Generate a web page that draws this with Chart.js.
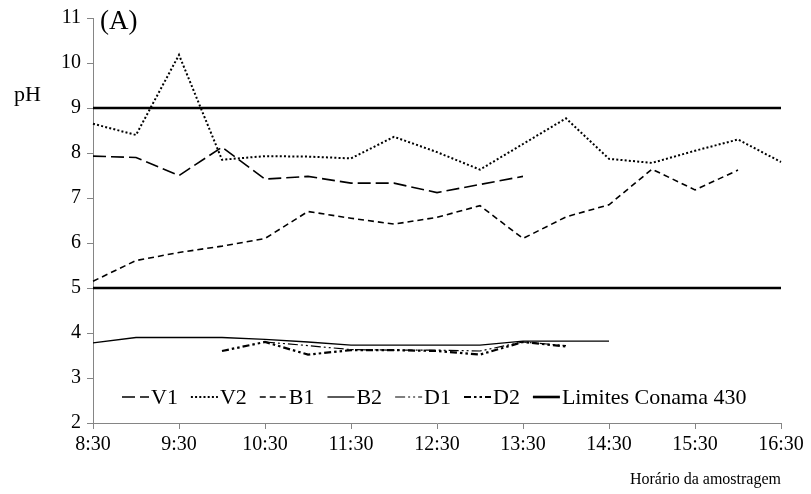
<!DOCTYPE html>
<html>
<head>
<meta charset="utf-8">
<script src="https://cdn.jsdelivr.net/npm/chart.js@4/dist/chart.umd.min.js"></script>
<style>
  html, body { margin: 0; padding: 0; background: #ffffff; }
  #wrap { width: 811px; height: 494px; }
</style>
</head>
<body>
<div id="wrap"><canvas id="ph" width="811" height="494"></canvas></div>
<script>
// Sampling times (every half hour)
const times = ['8:30','9:00','9:30','10:00','10:30','11:00','11:30','12:00','12:30',
               '13:00','13:30','14:00','14:30','15:00','15:30','16:00','16:30'];

// pH readings per sampling point (null = not sampled)
const v1 = [7.93, 7.90, 7.50, 8.13, 7.42, 7.48, 7.33, 7.33, 7.12, 7.30, 7.48,
            null, null, null, null, null, null];
const v2 = [8.65, 8.40, 10.18, 7.85, 7.93, 7.92, 7.88, 8.36, 8.02, 7.63, 8.20,
            8.77, 7.87, 7.78, 8.05, 8.30, 7.80];
const b1 = [5.15, 5.61, 5.79, 5.93, 6.10, 6.70, 6.55, 6.42, 6.57, 6.83, 6.10,
            6.58, 6.85, 7.64, 7.18, 7.62, null];
const b2 = [3.78, 3.90, 3.90, 3.90, 3.86, 3.80, 3.73, 3.73, 3.73, 3.73, 3.82,
            3.82, 3.82, null, null, null, null];
const d1 = [null, null, null, null, 3.80, 3.72, 3.63, 3.62, 3.62, 3.60, 3.80,
            3.72, null, null, null, null, null];
const d2 = [null, null, null, 3.60, 3.80, 3.52, 3.62, 3.62, 3.60, 3.52, 3.80,
            3.70, null, null, null, null, null];

// CONAMA 430 discharge limits for pH (5 to 9)
const limitUpper = times.map(() => 9);
const limitLower = times.map(() => 5);

const FONT = '"Liberation Serif", "Times New Roman", serif';
const AXIS_GREY = '#858585';

function series(label, data, dash, width) {
  return {
    label: label,
    data: data,
    borderColor: '#000000',
    backgroundColor: '#000000',
    borderWidth: width,
    borderDash: dash,
    borderCapStyle: 'butt',
    pointRadius: 0,
    tension: 0,
    spanGaps: false,
    fill: false
  };
}

const datasets = [
  series('V1', v1, [13, 5], 1.6),
  series('V2', v2, [2, 2.2], 2),
  series('B1', b1, [6, 4], 1.6),
  series('B2', b2, [], 1.3),
  series('D1', d1, [10, 3, 2, 3, 2, 3], 1.2),
  series('D2', d2, [7, 3, 2.5, 3, 2.5, 3], 2.2),
  series('Limites Conama 430', limitUpper, [], 2.6),
  series('', limitLower, [], 2.6)
];

// Legend drawn in a single row inside the plot area
const inlineLegend = {
  id: 'inlineLegend',
  afterDatasetsDraw(chart) {
    const ctx = chart.ctx;
    const y = 397;
    let x = 122;
    ctx.save();
    ctx.font = '22px ' + FONT;
    ctx.textBaseline = 'middle';
    ctx.fillStyle = '#000000';
    chart.data.datasets.forEach(ds => {
      if (!ds.label) return;
      ctx.save();
      ctx.strokeStyle = ds.borderColor;
      ctx.lineWidth = ds.borderWidth;
      ctx.setLineDash(ds.borderDash || []);
      ctx.lineCap = 'butt';
      ctx.beginPath();
      ctx.moveTo(x, y);
      ctx.lineTo(x + 27, y);
      ctx.stroke();
      ctx.restore();
      ctx.fillText(ds.label, x + 29, y + 1);
      x += 29 + ctx.measureText(ds.label).width + 13;
    });
    ctx.restore();
  }
};

// Panel letter and vertical axis name
const panelText = {
  id: 'panelText',
  afterDraw(chart) {
    const ctx = chart.ctx;
    ctx.save();
    ctx.fillStyle = '#000000';
    ctx.textBaseline = 'middle';
    ctx.textAlign = 'left';
    ctx.font = '22px ' + FONT;
    ctx.fillText('pH', 14, 95);
    ctx.font = '27px ' + FONT;
    ctx.fillText('(A)', 100, 22);
    ctx.restore();
  }
};

Chart.defaults.font.family = FONT;
Chart.defaults.color = '#000000';

new Chart(document.getElementById('ph'), {
  type: 'line',
  data: { labels: times, datasets: datasets },
  options: {
    responsive: false,
    animation: false,
    layout: { padding: { left: 0, top: 15, right: 30, bottom: 0 } },
    plugins: {
      legend: { display: false },
      tooltip: { enabled: false }
    },
    scales: {
      x: {
        type: 'category',
        offset: false,
        border: { color: AXIS_GREY, width: 1 },
        grid: {
          drawOnChartArea: false,
          drawTicks: true,
          tickLength: 6,
          tickColor: (c) => (c.index % 2 === 0 ? AXIS_GREY : 'rgba(0,0,0,0)')
        },
        ticks: {
          autoSkip: false,
          maxRotation: 0,
          padding: 4,
          font: { size: 20 },
          color: '#000000',
          callback: function (value, index) {
            return index % 2 === 0 ? this.getLabelForValue(value) : '';
          }
        },
        title: {
          display: true,
          text: 'Horário da amostragem',
          align: 'end',
          color: '#000000',
          font: { size: 16 },
          padding: { top: 0, bottom: 5 }
        },
        afterFit(scale) { scale.height = 71; }
      },
      y: {
        min: 2,
        max: 11,
        border: { color: AXIS_GREY, width: 1 },
        grid: {
          drawOnChartArea: false,
          drawTicks: true,
          tickLength: 6,
          tickColor: AXIS_GREY
        },
        ticks: {
          stepSize: 1,
          padding: 6,
          font: { size: 20 },
          color: '#000000'
        },
        afterFit(scale) { scale.width = 93; }
      }
    }
  },
  plugins: [inlineLegend, panelText]
});
</script>
</body>
</html>
